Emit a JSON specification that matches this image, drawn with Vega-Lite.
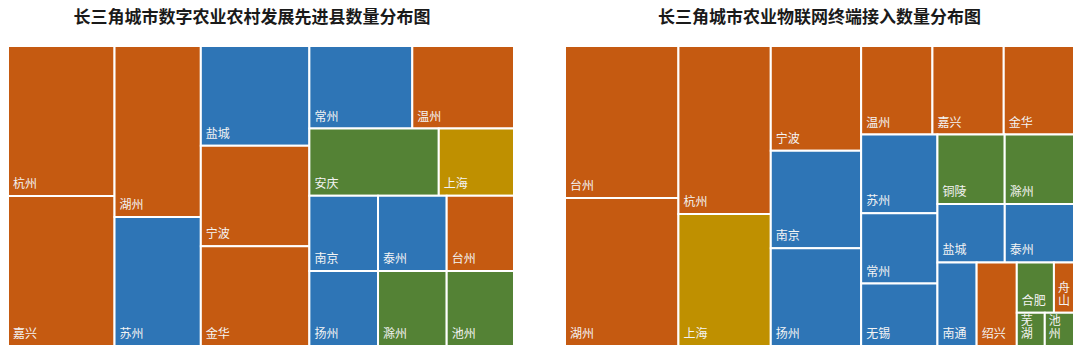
{
  "$schema": "https://vega.github.io/schema/vega-lite/v6.json",
  "padding": {"left": 7, "top": 9, "right": 0, "bottom": 0},
  "config": {"view": {"stroke": null}, "font": "Noto Sans CJK SC"},
  "spacing": 49,
  "data": {"values": [
    {"panel": "L", "city": "杭州", "label": "杭州", "prov": "浙江", "value": 15.8, "path": "1-1"},
    {"panel": "L", "city": "嘉兴", "label": "嘉兴", "prov": "浙江", "value": 15.8, "path": "1-2"},
    {"panel": "L", "city": "湖州", "label": "湖州", "prov": "浙江", "value": 14.6, "path": "2-1"},
    {"panel": "L", "city": "苏州", "label": "苏州", "prov": "江苏", "value": 11.0, "path": "2-2"},
    {"panel": "L", "city": "盐城", "label": "盐城", "prov": "江苏", "value": 10.7, "path": "3-1"},
    {"panel": "L", "city": "宁波", "label": "宁波", "prov": "浙江", "value": 10.8, "path": "3-2"},
    {"panel": "L", "city": "金华", "label": "金华", "prov": "浙江", "value": 10.7, "path": "3-3"},
    {"panel": "L", "city": "常州", "label": "常州", "prov": "江苏", "value": 8.4, "path": "4-1-1"},
    {"panel": "L", "city": "温州", "label": "温州", "prov": "浙江", "value": 8.3, "path": "4-1-2"},
    {"panel": "L", "city": "安庆", "label": "安庆", "prov": "安徽", "value": 8.6, "path": "4-2-1"},
    {"panel": "L", "city": "上海", "label": "上海", "prov": "上海", "value": 5.0, "path": "4-2-2"},
    {"panel": "L", "city": "南京", "label": "南京", "prov": "江苏", "value": 5.1, "path": "4-3-1-1"},
    {"panel": "L", "city": "扬州", "label": "扬州", "prov": "江苏", "value": 5.1, "path": "4-3-1-2"},
    {"panel": "L", "city": "泰州", "label": "泰州", "prov": "江苏", "value": 5.1, "path": "4-3-2-1"},
    {"panel": "L", "city": "滁州", "label": "滁州", "prov": "安徽", "value": 5.1, "path": "4-3-2-2"},
    {"panel": "L", "city": "台州", "label": "台州", "prov": "浙江", "value": 5.0, "path": "4-3-3-1"},
    {"panel": "L", "city": "池州", "label": "池州", "prov": "安徽", "value": 5.0, "path": "4-3-3-2"},
    {"panel": "R", "city": "台州", "label": "台州", "prov": "浙江", "value": 170.6, "path": "1-1"},
    {"panel": "R", "city": "湖州", "label": "湖州", "prov": "浙江", "value": 166.1, "path": "1-2"},
    {"panel": "R", "city": "杭州", "label": "杭州", "prov": "浙江", "value": 153.6, "path": "2-1"},
    {"panel": "R", "city": "上海", "label": "上海", "prov": "上海", "value": 120.5, "path": "2-2"},
    {"panel": "R", "city": "宁波", "label": "宁波", "prov": "浙江", "value": 93.6, "path": "3-1"},
    {"panel": "R", "city": "南京", "label": "南京", "prov": "江苏", "value": 87.3, "path": "3-2"},
    {"panel": "R", "city": "扬州", "label": "扬州", "prov": "江苏", "value": 87.3, "path": "3-3"},
    {"panel": "R", "city": "温州", "label": "温州", "prov": "浙江", "value": 62.5, "path": "4-1-1"},
    {"panel": "R", "city": "嘉兴", "label": "嘉兴", "prov": "浙江", "value": 62.5, "path": "4-1-2"},
    {"panel": "R", "city": "金华", "label": "金华", "prov": "浙江", "value": 61.6, "path": "4-1-3"},
    {"panel": "R", "city": "苏州", "label": "苏州", "prov": "江苏", "value": 59.3, "path": "4-2-1-1"},
    {"panel": "R", "city": "常州", "label": "常州", "prov": "江苏", "value": 53.2, "path": "4-2-1-2"},
    {"panel": "R", "city": "无锡", "label": "无锡", "prov": "江苏", "value": 47.1, "path": "4-2-1-3"},
    {"panel": "R", "city": "铜陵", "label": "铜陵", "prov": "安徽", "value": 46.2, "path": "4-2-2-1-1"},
    {"panel": "R", "city": "滁州", "label": "滁州", "prov": "安徽", "value": 47.6, "path": "4-2-2-1-2"},
    {"panel": "R", "city": "盐城", "label": "盐城", "prov": "江苏", "value": 38.9, "path": "4-2-2-2-1"},
    {"panel": "R", "city": "泰州", "label": "泰州", "prov": "江苏", "value": 40.0, "path": "4-2-2-2-2"},
    {"panel": "R", "city": "南通", "label": "南通", "prov": "江苏", "value": 32.4, "path": "4-2-2-3-1"},
    {"panel": "R", "city": "绍兴", "label": "绍兴", "prov": "浙江", "value": 33.2, "path": "4-2-2-3-2"},
    {"panel": "R", "city": "合肥", "label": "合肥", "prov": "安徽", "value": 18.5, "path": "4-2-2-3-3-1-1"},
    {"panel": "R", "city": "舟山", "label": "舟\n山", "prov": "浙江", "value": 10.0, "path": "4-2-2-3-3-1-2"},
    {"panel": "R", "city": "芜湖", "label": "芜\n湖", "prov": "安徽", "value": 9.2, "path": "4-2-2-3-3-2-1"},
    {"panel": "R", "city": "池州", "label": "池\n州", "prov": "安徽", "value": 9.6, "path": "4-2-2-3-3-2-2"}
  ]},
  "transform": [
    {"calculate": "split(datum.path, '-')", "as": "p"},
    {"calculate": "toNumber(datum.p[0])", "as": "k1"},
    {"calculate": "length(datum.p) > 1 ? toNumber(datum.p[1]) : 1", "as": "k2"},
    {"calculate": "length(datum.p) > 2 ? toNumber(datum.p[2]) : 1", "as": "k3"},
    {"calculate": "length(datum.p) > 3 ? toNumber(datum.p[3]) : 1", "as": "k4"},
    {"calculate": "length(datum.p) > 4 ? toNumber(datum.p[4]) : 1", "as": "k5"},
    {"calculate": "length(datum.p) > 5 ? toNumber(datum.p[5]) : 1", "as": "k6"},
    {"calculate": "length(datum.p) > 6 ? toNumber(datum.p[6]) : 1", "as": "k7"},
    {"joinaggregate": [{"op": "sum", "field": "value", "as": "s0"}], "groupby": ["panel"]},
    {"joinaggregate": [{"op": "sum", "field": "value", "as": "s1"}], "groupby": ["panel", "k1"]},
    {"joinaggregate": [{"op": "sum", "field": "value", "as": "s2"}], "groupby": ["panel", "k1", "k2"]},
    {"joinaggregate": [{"op": "sum", "field": "value", "as": "s3"}], "groupby": ["panel", "k1", "k2", "k3"]},
    {"joinaggregate": [{"op": "sum", "field": "value", "as": "s4"}], "groupby": ["panel", "k1", "k2", "k3", "k4"]},
    {"joinaggregate": [{"op": "sum", "field": "value", "as": "s5"}], "groupby": ["panel", "k1", "k2", "k3", "k4", "k5"]},
    {"joinaggregate": [{"op": "sum", "field": "value", "as": "s6"}], "groupby": ["panel", "k1", "k2", "k3", "k4", "k5", "k6"]},
    {"window": [{"op": "sum", "field": "value", "as": "c1"}], "groupby": ["panel"], "sort": [{"field": "k1"}]},
    {"window": [{"op": "sum", "field": "value", "as": "c2"}], "groupby": ["panel", "k1"], "sort": [{"field": "k2"}]},
    {"window": [{"op": "sum", "field": "value", "as": "c3"}], "groupby": ["panel", "k1", "k2"], "sort": [{"field": "k3"}]},
    {"window": [{"op": "sum", "field": "value", "as": "c4"}], "groupby": ["panel", "k1", "k2", "k3"], "sort": [{"field": "k4"}]},
    {"window": [{"op": "sum", "field": "value", "as": "c5"}], "groupby": ["panel", "k1", "k2", "k3", "k4"], "sort": [{"field": "k5"}]},
    {"window": [{"op": "sum", "field": "value", "as": "c6"}], "groupby": ["panel", "k1", "k2", "k3", "k4", "k5"], "sort": [{"field": "k6"}]},
    {"window": [{"op": "sum", "field": "value", "as": "c7"}], "groupby": ["panel", "k1", "k2", "k3", "k4", "k5", "k6"], "sort": [{"field": "k7"}]},
    {"calculate": "(datum.c1 - datum.s1) / datum.s0", "as": "xa1"},
    {"calculate": "datum.c1 / datum.s0", "as": "xb1"},
    {"calculate": "(datum.c2 - datum.s2) / datum.s1", "as": "ya2"},
    {"calculate": "datum.c2 / datum.s1", "as": "yb2"},
    {"calculate": "datum.xa1 + (datum.xb1 - datum.xa1) * (datum.c3 - datum.s3) / datum.s2", "as": "xa3"},
    {"calculate": "datum.xa1 + (datum.xb1 - datum.xa1) * datum.c3 / datum.s2", "as": "xb3"},
    {"calculate": "datum.ya2 + (datum.yb2 - datum.ya2) * (datum.c4 - datum.s4) / datum.s3", "as": "ya4"},
    {"calculate": "datum.ya2 + (datum.yb2 - datum.ya2) * datum.c4 / datum.s3", "as": "yb4"},
    {"calculate": "datum.xa3 + (datum.xb3 - datum.xa3) * (datum.c5 - datum.s5) / datum.s4", "as": "xa5"},
    {"calculate": "datum.xa3 + (datum.xb3 - datum.xa3) * datum.c5 / datum.s4", "as": "xb5"},
    {"calculate": "datum.ya4 + (datum.yb4 - datum.ya4) * (datum.c6 - datum.s6) / datum.s5", "as": "ya6"},
    {"calculate": "datum.ya4 + (datum.yb4 - datum.ya4) * datum.c6 / datum.s5", "as": "yb6"},
    {"calculate": "datum.xa5 + (datum.xb5 - datum.xa5) * (datum.c7 - datum.value) / datum.s6", "as": "xa7"},
    {"calculate": "datum.xa5 + (datum.xb5 - datum.xa5) * datum.c7 / datum.s6", "as": "xb7"}
  ],
  "hconcat": [
    {
      "width": 506, "height": 300,
      "title": {"text": "长三角城市数字农业农村发展先进县数量分布图", "fontSize": 17, "fontWeight": "bold", "color": "#1a1a1a", "font": "Noto Sans CJK SC", "offset": 18, "dx": -9},
      "transform": [{"filter": "datum.panel === 'L'"}],
      "encoding": {
        "x": {"field": "xa7", "type": "quantitative", "scale": {"domain": [0, 1], "nice": false, "zero": false}, "axis": null},
        "x2": {"field": "xb7"},
        "y": {"field": "ya6", "type": "quantitative", "scale": {"domain": [0, 1], "nice": false, "zero": false, "reverse": true}, "axis": null},
        "y2": {"field": "yb6"}
      },
      "layer": [
        {"mark": {"type": "rect", "stroke": "white", "strokeWidth": 2},
         "encoding": {"color": {"field": "prov", "type": "nominal", "legend": null,
           "scale": {"domain": ["浙江", "江苏", "安徽", "上海"], "range": ["#C55A11", "#2E75B6", "#548235", "#BF9000"]}}}},
        {"transform": [{"filter": "length(datum.label) <= 2"}],
         "mark": {"type": "text", "align": "left", "baseline": "bottom", "dx": 5, "dy": -5, "fontSize": 12, "color": "#f4f4f4", "font": "Noto Sans CJK SC"},
         "encoding": {"y": {"field": "yb6", "type": "quantitative"}, "x2": null, "y2": null, "text": {"field": "label"}}}
      ]
    },
    {
      "width": 509, "height": 300,
      "title": {"text": "长三角城市农业物联网终端接入数量分布图", "fontSize": 17, "fontWeight": "bold", "color": "#1a1a1a", "font": "Noto Sans CJK SC", "offset": 18},
      "transform": [{"filter": "datum.panel === 'R'"}],
      "encoding": {
        "x": {"field": "xa7", "type": "quantitative", "scale": {"domain": [0, 1], "nice": false, "zero": false}, "axis": null},
        "x2": {"field": "xb7"},
        "y": {"field": "ya6", "type": "quantitative", "scale": {"domain": [0, 1], "nice": false, "zero": false, "reverse": true}, "axis": null},
        "y2": {"field": "yb6"}
      },
      "layer": [
        {"mark": {"type": "rect", "stroke": "white", "strokeWidth": 2},
         "encoding": {"color": {"field": "prov", "type": "nominal", "legend": null,
           "scale": {"domain": ["浙江", "江苏", "安徽", "上海"], "range": ["#C55A11", "#2E75B6", "#548235", "#BF9000"]}}}},
        {"transform": [{"filter": "length(datum.label) <= 2"}],
         "mark": {"type": "text", "align": "left", "baseline": "bottom", "dx": 5, "dy": -5, "fontSize": 12, "color": "#f4f4f4", "font": "Noto Sans CJK SC"},
         "encoding": {"y": {"field": "yb6", "type": "quantitative"}, "x2": null, "y2": null, "text": {"field": "label"}}},
        {"transform": [{"filter": "length(datum.label) > 2"}],
         "mark": {"type": "text", "align": "left", "baseline": "bottom", "dx": 4, "dy": -18, "fontSize": 12, "lineHeight": 13, "color": "#f4f4f4", "lineBreak": "\n", "font": "Noto Sans CJK SC"},
         "encoding": {"y": {"field": "yb6", "type": "quantitative"}, "x2": null, "y2": null, "text": {"field": "label"}}}
      ]
    }
  ]
}
